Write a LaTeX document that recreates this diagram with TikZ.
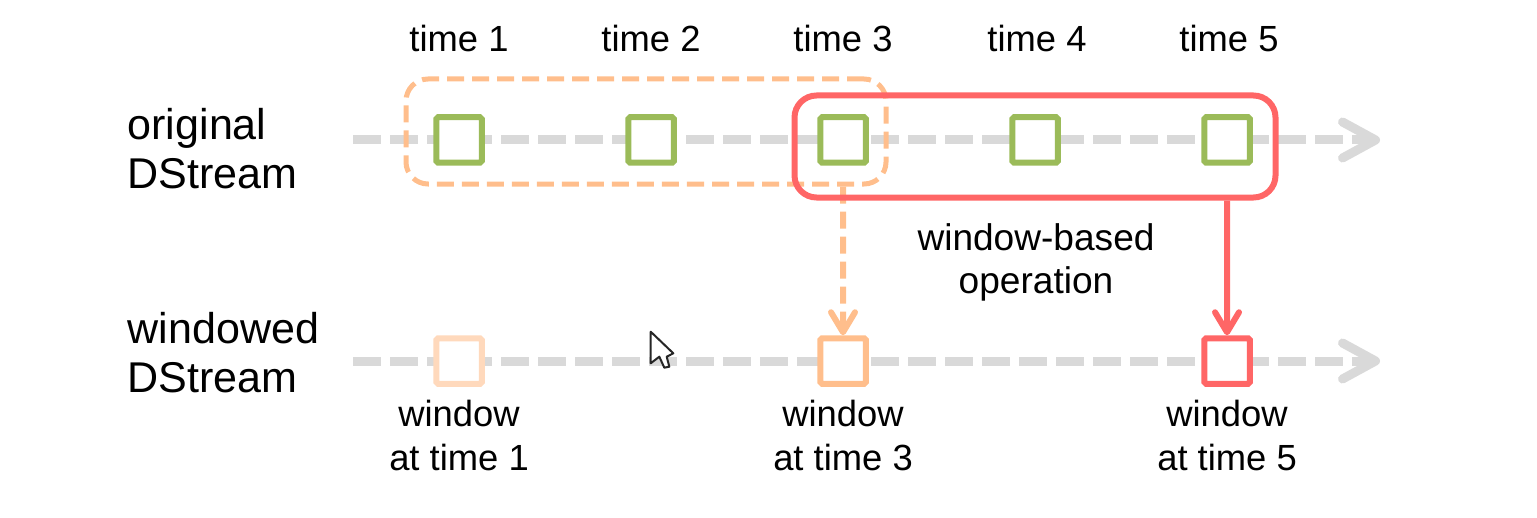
\documentclass[tikz,border=0pt]{standalone}
\usepackage{fontspec}
\setmainfont{Liberation Sans}
\usepackage{xcolor}
\usetikzlibrary{positioning,arrows.meta}
\definecolor{batchgreen}{HTML}{9BBB59}
\definecolor{winorange}{HTML}{FFBE8C}
\definecolor{winpale}{HTML}{FFD9BC}
\definecolor{winred}{HTML}{FF6666}
\definecolor{linegray}{HTML}{D9D9D9}
\begin{document}
\begin{tikzpicture}[
    node distance=1.41cm,
    batch/.style={rectangle, draw, fill=white, line width=0.06cm, minimum size=0.455cm, inner sep=0pt, rounded corners=0.5pt},
    span/.style={rectangle, draw, rounded corners=0.22cm, inner sep=0pt},
    timeline/.style={-{Straight Barb[length=0.33cm, width=0.36cm, round]}, line width=0.09cm, linegray, dash pattern=on 0.28cm off 0.09cm},
    feed/.style={-{Straight Barb[length=0.2cm, width=0.24cm, round]}, line width=0.06cm},
    stamp/.style={inner sep=0pt, font=\fontsize{10.35}{12.3}\selectfont, align=center},
    stream/.style={inner sep=0pt, anchor=west, font=\fontsize{12.25}{13.75}\selectfont, align=left}
]
    \useasboundingbox (0,0) rectangle (15.37,-5.17);

    % gray time lines
    \coordinate (origstart) at (3.53,-1.40);
    \coordinate (origend) at (13.80,-1.40);
    \coordinate (winstart) at (3.53,-3.61);
    \coordinate (winend) at (13.80,-3.61);
    \draw[timeline] (origstart) -- (origend);
    \draw[timeline] (winstart) -- (winend);

    % original batches
    \node[batch, draw=batchgreen] (orig1) at (4.59,-1.40) {};
    \node[batch, draw=batchgreen, right=1.405cm of orig1] (orig2) {};
    \node[batch, draw=batchgreen, right=1.405cm of orig2] (orig3) {};
    \node[batch, draw=batchgreen, right=1.405cm of orig3] (orig4) {};
    \node[batch, draw=batchgreen, right=1.405cm of orig4] (orig5) {};

    % windowed batches
    \node[batch, draw=winpale] (win1) at (4.59,-3.61) {};
    \node[batch, draw=winorange] (win3) at (8.43,-3.61) {};
    \node[batch, draw=winred] (win5) at (12.27,-3.61) {};

    % windows
    \node[span, draw=winorange, line width=0.05cm, dash pattern=on 0.17cm off 0.08cm, minimum width=4.80cm, minimum height=1.05cm] (oldspan) at (6.46,-1.315) {};
    \draw[feed, winorange, dash pattern=on 0.17cm off 0.08cm] (orig3 |- oldspan.south) -- (win3.north);
    \node[span, draw=winred, line width=0.06cm, minimum width=4.81cm, minimum height=1.02cm] (newspan) at (10.35,-1.465) {};
    \draw[feed, winred] (orig5 |- newspan.south) -- (win5.north);

    % labels
    \foreach \i/\dx in {1/0,2/0,3/0,4/0.02,5/0.02}
        \node[stamp, above=0.62cm of orig\i, xshift=\dx cm] (time\i) {time \i};
    \node[stamp, font=\fontsize{10.55}{12.3}\selectfont, below=0.225cm of newspan, xshift=0.01cm] (oplabel) {window-based\\operation};
    \node[stamp, below=0.13cm of win1] (winlabel1) {window\\at time 1};
    \node[stamp, below=0.13cm of win3] (winlabel3) {window\\at time 3};
    \node[stamp, below=0.13cm of win5] (winlabel5) {window\\at time 5};
    \node[stream] (origlabel) at (1.27,-1.485) {original\\DStream};
    \node[stream] (winlabel) at (1.27,-3.525) {windowed\\DStream};

    % mouse pointer
    \draw[fill=white, draw=black!85, line width=0.02cm, line join=round] (6.507,-3.317) -- (6.507,-3.633) -- (6.593,-3.567) -- (6.643,-3.677) -- (6.693,-3.667) -- (6.667,-3.567) -- (6.733,-3.533) -- cycle;
\end{tikzpicture}
\end{document}
